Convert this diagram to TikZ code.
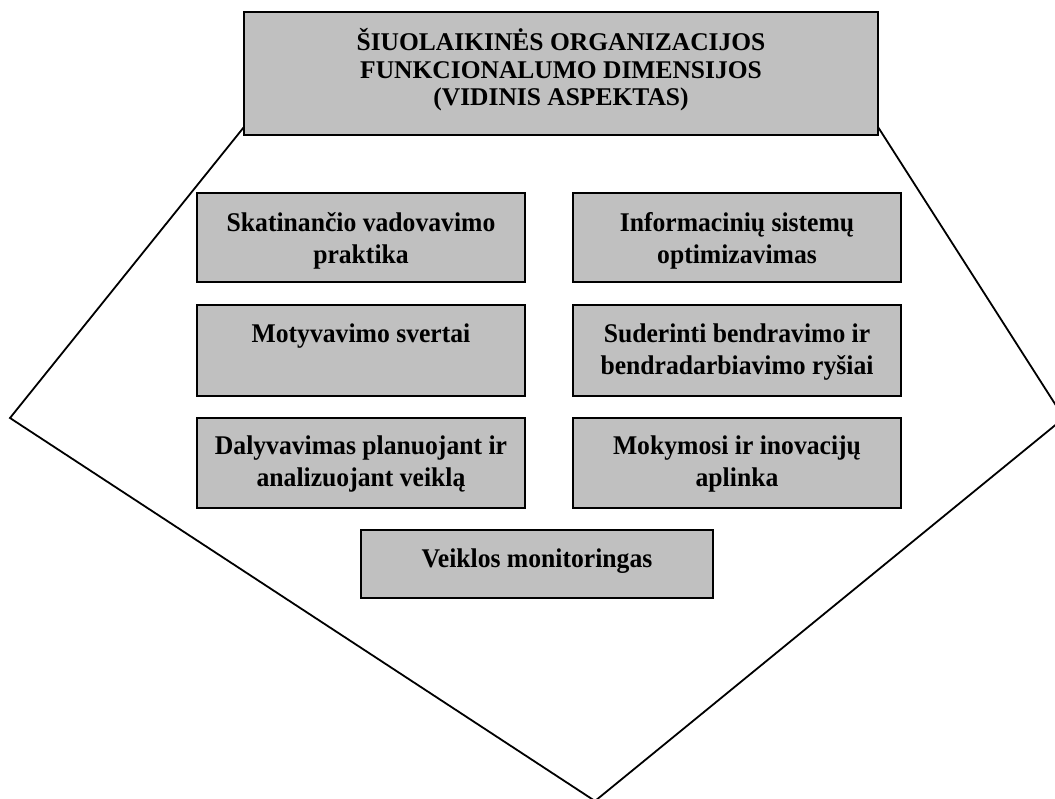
\documentclass[tikz,border=0pt]{standalone}
\usepackage{fontspec}
\setmainfont{Liberation Serif}
\newfontfamily\boxfont{Liberation Serif}[FakeStretch=0.95]
\definecolor{boxgrey}{RGB}{192,192,192}
\begin{document}
\begin{tikzpicture}[x=1pt,y=-1pt,
  box/.style={draw=black, line width=1.9pt, fill=boxgrey, inner sep=0pt, minimum width=328pt},
  lbl/.style={font=\boxfont\bfseries\fontsize{27}{32}\selectfont, align=center, anchor=north, inner sep=0pt},
  ttl/.style={font=\bfseries\fontsize{25.5}{27.5}\selectfont, align=center, inner sep=0pt},
  edge/.style={draw=black, line width=1.8pt, line join=miter}]
\useasboundingbox (0,0) rectangle (1055,799);
\clip (0,0) rectangle (1055,799);
% pentagon outline
\coordinate (pl) at (10,418);
\coordinate (pb) at (595,801);
\coordinate (pr) at (1064,418);
\coordinate (ptl) at (244,127);
\coordinate (ptr) at (878,127);
\draw[edge] (ptl) -- (pl) -- (pb) -- (pr) -- (ptr);
% title box
\node[box, minimum width=634pt, minimum height=123pt] (title) at (561,73.5) {};
\node[ttl] (titletext) at (561,70) {ŠIUOLAIKINĖS ORGANIZACIJOS\\FUNKCIONALUMO DIMENSIJOS\\(VIDINIS ASPEKTAS)};
% boxes
\node[box, minimum height=89pt] (b1) at (361,237.5) {};
\node[box, minimum height=89pt] (b2) at (737,237.5) {};
\node[box, minimum height=91pt] (b3) at (361,350.5) {};
\node[box, minimum height=91pt] (b4) at (737,350.5) {};
\node[box, minimum height=90pt] (b5) at (361,463) {};
\node[box, minimum height=90pt] (b6) at (737,463) {};
\node[box, minimum width=352pt, minimum height=68pt] (b7) at (537,564) {};
\node[lbl] (t1) at ([yshift=-20pt]b1.north) {Skatinančio vadovavimo\\praktika};
\node[lbl] (t2) at ([yshift=-20pt]b2.north) {Informacinių sistemų\\optimizavimas};
\node[lbl] (t3) at ([yshift=-20pt]b3.north) {Motyvavimo svertai};
\node[lbl] (t4) at ([yshift=-20pt]b4.north) {Suderinti bendravimo ir\\bendradarbiavimo ryšiai};
\node[lbl] (t5) at ([yshift=-19pt]b5.north) {Dalyvavimas planuojant ir\\analizuojant veiklą};
\node[lbl] (t6) at ([yshift=-19pt]b6.north) {Mokymosi ir inovacijų\\aplinka};
\node[lbl] (t7) at ([yshift=-20pt]b7.north) {Veiklos monitoringas};
\end{tikzpicture}
\end{document}
